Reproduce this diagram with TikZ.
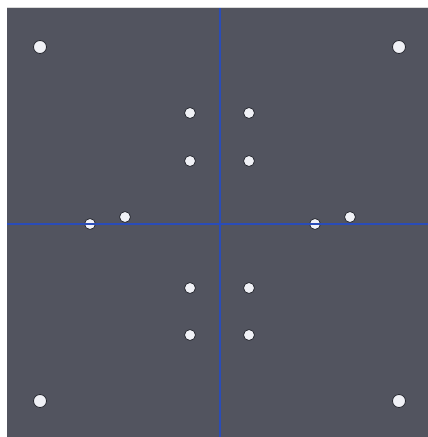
\documentclass[tikz,border=0pt]{standalone}
\definecolor{panel}{RGB}{82,84,95}
\definecolor{axisblue}{RGB}{42,76,184}
\definecolor{dotfill}{RGB}{240,241,246}
\definecolor{dotedge}{RGB}{40,42,50}
\tikzset{
  dot/.style={circle,fill=dotfill,draw=dotedge,line width=0.8pt,inner sep=0pt,minimum size=11pt},
  bigdot/.style={dot,minimum size=13pt},
  axisbar/.style={fill=axisblue}
}
\begin{document}
\begin{tikzpicture}[x=1pt,y=-1pt]
\useasboundingbox (0,0) rectangle (428,437);
\fill[white] (0,0) rectangle (428,437);
\fill[black!15] (7,6.5) rectangle (428,8);
\fill[panel] (7,8) rectangle (428,437);
\path[axisbar] (218.6,8) rectangle (220.6,437);
\path[axisbar] (7,222.5) rectangle (428,224.5);
\node[bigdot] (c1) at (40,47) {};
\node[bigdot] (c2) at (399,47) {};
\node[bigdot] (c3) at (40,401) {};
\node[bigdot] (c4) at (399,401) {};
\node[dot] (a1) at (190,113) {};
\node[dot] (a2) at (249,113) {};
\node[dot] (a3) at (190,161) {};
\node[dot] (a4) at (249,161) {};
\node[dot] (b1) at (190,288) {};
\node[dot] (b2) at (249,288) {};
\node[dot] (b3) at (190,335) {};
\node[dot] (b4) at (249,335) {};
\node[dot] (l1) at (90,224) {};
\node[dot] (l2) at (125,217) {};
\node[dot] (r1) at (315,224) {};
\node[dot] (r2) at (350,217) {};
\path[axisbar] ([yshift=-0.9pt]l1.west) rectangle ([yshift=0.9pt]l1.east);
\path[axisbar] ([yshift=-0.9pt]r1.west) rectangle ([yshift=0.9pt]r1.east);
\end{tikzpicture}
\end{document}
